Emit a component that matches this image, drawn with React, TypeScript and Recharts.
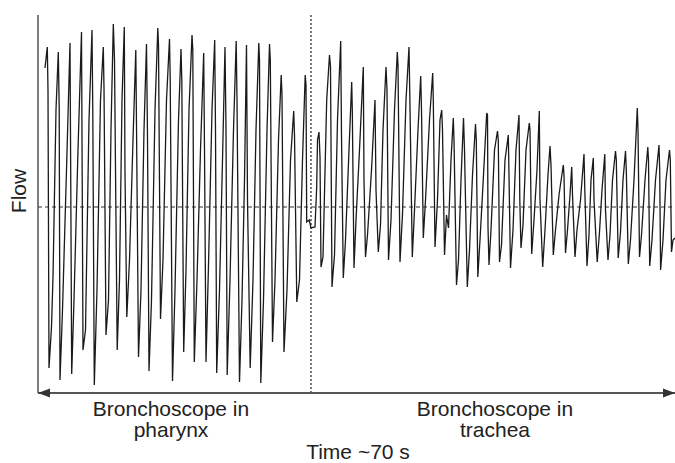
import React from "react";
import { LineChart, Line, XAxis, YAxis, ReferenceLine } from "recharts";

// x: sample number (9 samples per second, ~70 s total); y: flow (arbitrary units)
const pharynxTrace: [number, number][] = [
  [7, 139],
  [9.3, 160], [10, 117], [11, -161], [13.5, -120], [15, -70], [18, 97],
  [20.3, 155], [21.2, 99], [22, -173], [24.5, -103], [28.5, 37],
  [32, 164], [32.7, 37], [33.7, -167], [36, -93], [40, 57],
  [43.5, 175], [44.2, 29], [45, -143], [47.5, -123], [51, 87],
  [54, 177], [54.8, 94], [56.3, -178], [59, -83], [62.5, 107],
  [65.3, 160], [66, 119], [68, -128], [70.5, -93], [73, 77],
  [75.3, 183], [76.5, 147], [79.2, -143], [81.5, -73], [84, 107],
  [86.3, 180], [87, 34], [88.8, -110], [91.5, -53], [95, 67],
  [97.8, 157], [98.5, 82], [100.5, -150], [103, -83], [106, 77],
  [108.5, 163], [109.5, 70], [111, -164], [113.5, -93], [117, 97],
  [119.8, 179], [120.5, 162], [122.5, -112], [125, -53], [128.5, 107],
  [131.5, 168], [132.2, 129], [134.5, -174], [137, -83], [140.5, 87],
  [143, 158], [143.8, 127], [145.7, -145], [148, -63], [151, 97],
  [154, 172], [154.8, 157], [156.3, -155], [159, -73], [162.5, 57],
  [165.7, 154], [166.5, 57], [168, -155], [170.5, -58], [174, 97],
  [176.7, 167], [177.5, 77], [178.7, -166], [181.5, -83], [184.5, 47],
  [187, 160], [188, 77], [189.2, -168], [192, -73], [195.5, 77],
  [198.2, 166], [199, 107], [201.5, -175], [204, -93], [206.5, 27],
  [208.5, 162], [209.5, 7], [212.2, -161], [215, -73], [218, 77],
  [220.8, 164], [221.5, 147], [222.8, -176], [225.5, -93], [229, 77],
  [231.5, 163], [232.3, 147], [234.5, -135], [237, -73], [240.5, 67],
  [243.2, 132], [244, 112], [246, -145], [249, -83], [252.5, 47],
  [255.7, 96], [256.5, 72], [258.8, -95], [261.5, -73], [264.5, 47],
  [267.2, 132], [268, 122], [268.7, -15], [271.3, -13], [273, -21],
];

const tracheaTrace: [number, number][] = [
  [277, -20], [278.7, 20], [279.5, 67],
  [281, 75], [282, 50], [283, -60], [285, -50], [288.7, 107],
  [291.5, 152], [292.5, 140], [294, -80], [296.5, -48], [299.5, 87],
  [302.7, 166], [303.5, 72], [305.3, -71], [307.5, -33], [311, 57],
  [313.7, 125], [314.3, 97], [316, -61], [318, -13], [321.5, 57],
  [325.3, 140], [326, 27], [327.5, -50], [329.5, -28], [333.5, 37],
  [337, 107], [338, 17], [340.3, -45], [342.5, -18], [345, 77],
  [348, 140], [349, 117], [350.5, -53], [353, -13], [356.5, 97],
  [359.3, 155], [360, 142], [362, -55], [364.5, -7], [368, 107],
  [371, 160], [371.8, 112], [374.3, -50], [376.5, -3], [380, 77],
  [382.7, 131], [383.5, 97], [385.3, -31], [387.5, 7], [391.5, 87],
  [394.7, 134], [395.3, 107], [397, -40], [399.5, 7], [402, 87],
  [403.7, 97], [404.5, 77], [406.5, -48], [408.5, -8], [410.5, -21], [413, 47],
  [415.3, 89], [416, 67], [418.5, -78], [420.5, -53], [423, 27],
  [425.5, 89], [426.5, 57], [429.3, -80], [431.5, -43], [434.5, 32],
  [437.5, 83], [438.3, 67], [439.8, -70], [442, -33], [445.5, 32],
  [448.7, 94], [449.5, 92], [450, -20], [451, -58], [453, -23], [456.5, 57],
  [459.5, 76], [460.3, 67], [461.5, -55], [463.5, -38], [467, 47],
  [470.3, 72], [471, 32], [472.5, -61], [475, -23], [478, 57],
  [481, 92], [481.8, 7], [483, -41], [485, -18], [488, 57],
  [491.3, 84], [492, 77], [493.7, -47], [496, -13], [499, 37],
  [501.3, 96], [502, 7], [504.7, -60], [507, -23], [510, 32],
  [512, 61], [513, 42], [515.3, -48], [517.5, -23], [521, 12],
  [525.3, 42], [526, 32], [527.5, -46], [529.5, -23], [532, 12],
  [533.7, 40], [534.5, 12], [537, -50], [539, -23], [542.5, 7],
  [546, 53], [546.8, 17], [549, -59], [551, -28], [553, 27],
  [555.3, 49], [556, 7], [559.2, -55], [561.5, -25], [564, 17],
  [566.8, 53], [567.5, -3], [570, -53], [572, -28], [574.5, 27],
  [577.5, 56], [578.3, 47], [580.2, -51], [582.5, -25], [585, 27],
  [587.5, 56], [588.3, 37], [590.3, -57], [592.5, -33], [596, 27],
  [599.3, 99], [600, 77], [601.5, -50], [603.5, -28], [607, 27],
  [609.8, 60], [610.5, 47], [611.7, -59], [614, -33], [617.5, 27],
  [621, 62], [621.7, 37], [622.6, -63], [625, -33], [628, 27],
  [631.5, 57], [632.3, 47], [633.5, -45], [635, -33], [637, -31],
];

const xDomain: [number, number] = [0, 637];
const yDomain: [number, number] = [-186, 192];
const transitionX = 273;

const leftLabel = ["Bronchoscope in", "pharynx"];
const rightLabel = ["Bronchoscope in", "trachea"];
const xTitle = "Time ~70 s";
const yTitle = "Flow";

const data = [...pharynxTrace, ...tracheaTrace].map(([x, y]) => ({ x, y }));

const font = "'Liberation Sans', Arial, Helvetica, sans-serif";
const fs = 21;

export default function App() {
  return (
    <div style={{ position: "absolute", left: 0, top: 0, width: 675, height: 463, background: "#fff" }}>
      <LineChart width={675} height={463} data={data} margin={{ top: 15, right: 0, bottom: 70, left: 38 }}>
        <XAxis type="number" dataKey="x" domain={xDomain} hide allowDataOverflow />
        <YAxis type="number" domain={yDomain} hide allowDataOverflow />
        <ReferenceLine y={0} stroke="#333" strokeWidth={1.2} strokeDasharray="4 3" />
        <ReferenceLine x={transitionX} stroke="#222" strokeWidth={1.2} strokeDasharray="2 2" />
        <ReferenceLine x={0} stroke="#444" strokeWidth={1.4} />
        <ReferenceLine y={yDomain[0]} stroke="#555" strokeWidth={2.2} />
        <Line
          type="linear"
          dataKey="y"
          stroke="#1a1a1a"
          strokeWidth={1.3}
          dot={false}
          isAnimationActive={false}
        />
      </LineChart>
      <svg
        width={675}
        height={463}
        style={{ position: "absolute", left: 0, top: 0, pointerEvents: "none" }}
      >
        <polygon points="38,393 50,388.5 50,397.5" fill="#333" />
        <polygon points="675,393 663,388.5 663,397.5" fill="#333" />
        <text x={171} y={416} textAnchor="middle" fontFamily={font} fontSize={fs} fill="#222">{leftLabel[0]}</text>
        <text x={171} y={437} textAnchor="middle" fontFamily={font} fontSize={fs} fill="#222">{leftLabel[1]}</text>
        <text x={495} y={416} textAnchor="middle" fontFamily={font} fontSize={fs} fill="#222">{rightLabel[0]}</text>
        <text x={495} y={437} textAnchor="middle" fontFamily={font} fontSize={fs} fill="#222">{rightLabel[1]}</text>
        <text x={358} y={459} textAnchor="middle" fontFamily={font} fontSize={fs} fill="#222">{xTitle}</text>
        <text
          x={0}
          y={0}
          transform="translate(26,191) rotate(-90)"
          textAnchor="middle"
          fontFamily={font}
          fontSize={fs}
          fill="#222"
        >
          {yTitle}
        </text>
      </svg>
    </div>
  );
}
